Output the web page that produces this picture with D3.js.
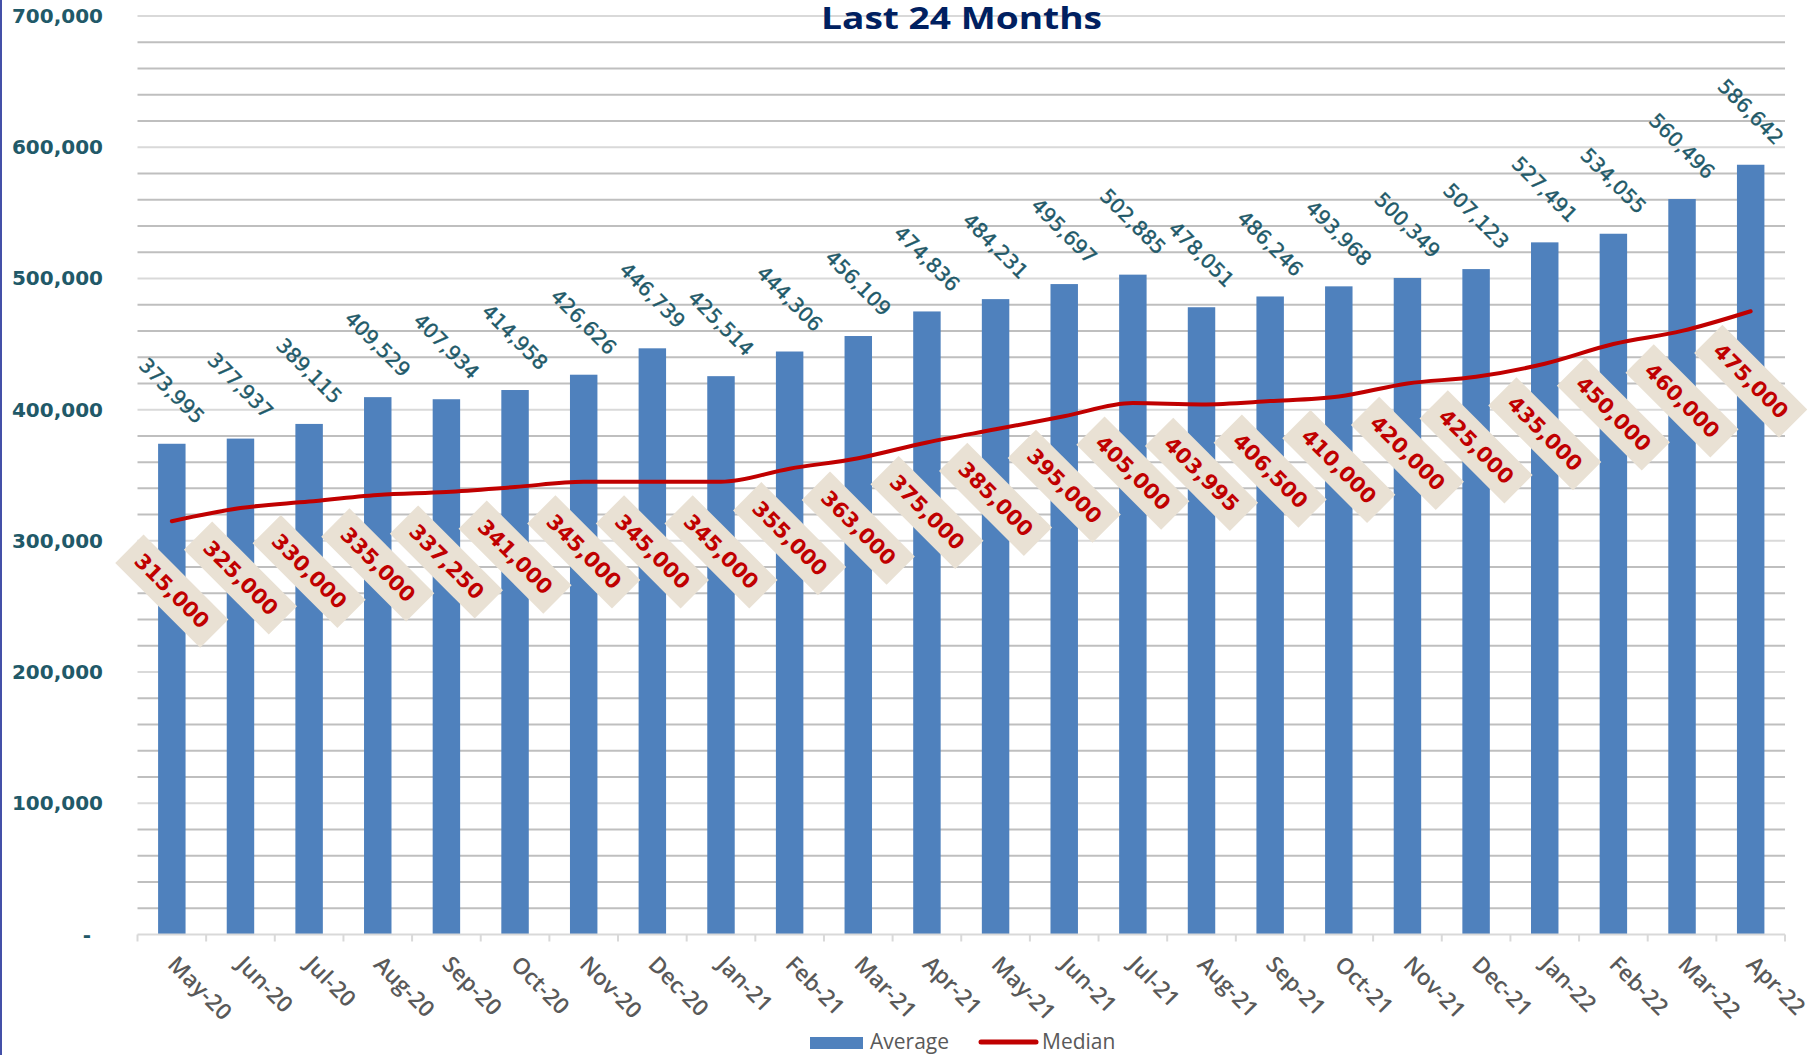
<!DOCTYPE html>
<html lang="en">
  <head>
    <meta charset="UTF-8" />
    <title>Last 24 Months</title>
    <script src="https://d3js.org/d3.v7.min.js"></script>
    <style>
      body {
        margin: 0;
        background: #fff;
      }
      svg {
        display: block;
      }
    </style>
  </head>
  <body>
    <div id="chart"></div>
    <script>
      const months = ['May-20', 'Jun-20', 'Jul-20', 'Aug-20', 'Sep-20', 'Oct-20', 'Nov-20', 'Dec-20',
        'Jan-21', 'Feb-21', 'Mar-21', 'Apr-21', 'May-21', 'Jun-21', 'Jul-21', 'Aug-21',
        'Sep-21', 'Oct-21', 'Nov-21', 'Dec-21', 'Jan-22', 'Feb-22', 'Mar-22', 'Apr-22'];
      const average = [373995, 377937, 389115, 409529, 407934, 414958, 426626, 446739,
        425514, 444306, 456109, 474836, 484231, 495697, 502885, 478051,
        486246, 493968, 500349, 507123, 527491, 534055, 560496, 586642];
      const median = [315000, 325000, 330000, 335000, 337250, 341000, 345000, 345000,
        345000, 355000, 363000, 375000, 385000, 395000, 405000, 403995,
        406500, 410000, 420000, 425000, 435000, 450000, 460000, 475000];
      const yTicks = [0, 100000, 200000, 300000, 400000, 500000, 600000, 700000];

      const W = 1819, H = 1055;
      const plotL = 137.5, plotR = 1785, plotT = 16, plotB = 934.5;

      const svg = d3.select('#chart').append('svg')
        .attr('width', W).attr('height', H);

      const x = d3.scaleBand().domain(months).range([plotL, plotR]).paddingInner(0.6).paddingOuter(0.3);
      const y = d3.scaleLinear().domain([0, 700000]).range([plotB, plotT]);
      const fmt = d3.format(',');
      const cx = m => x(m) + x.bandwidth() / 2;

      // left border
      svg.append('line').attr('x1', 1).attr('x2', 1).attr('y1', 0).attr('y2', H)
        .attr('stroke', '#4450A8').attr('stroke-width', 2);

      // gridlines, minor every 20k
      const grid = d3.range(20000, 700001, 20000);
      svg.append('g').selectAll('line').data(grid).join('line')
        .attr('x1', plotL).attr('x2', plotR)
        .attr('y1', d => y(d)).attr('y2', d => y(d))
        .attr('stroke', d => (d % 100000 === 0 ? '#D9D9D9' : '#BFBFBF'))
        .attr('stroke-width', 2);

      // y labels
      svg.append('g').selectAll('text').data(yTicks).join('text')
        .attr('x', d => (d === 0 ? 91 : 103))
        .attr('y', d => y(d))
        .attr('text-anchor', 'end')
        .attr('dominant-baseline', 'central')
        .style('font', 'bold 20px "DejaVu Sans"')
        .attr('fill', '#215968')
        .text(d => (d === 0 ? '-' : fmt(d)));

      // title
      svg.append('text')
        .attr('x', 961.5).attr('y', 29)
        .attr('text-anchor', 'middle')
        .attr('textLength', 281).attr('lengthAdjust', 'spacingAndGlyphs')
        .style('font', 'bold 30px "Open Sans"')
        .attr('fill', '#002060')
        .text('Last 24 Months');

      // bars
      svg.append('g').selectAll('rect').data(average).join('rect')
        .attr('x', (d, i) => x(months[i]))
        .attr('y', d => y(d))
        .attr('width', x.bandwidth())
        .attr('height', d => plotB - y(d))
        .attr('fill', '#4F81BD');

      // x axis line and ticks
      svg.append('line').attr('x1', plotL).attr('x2', plotR).attr('y1', plotB).attr('y2', plotB)
        .attr('stroke', '#D9D9D9').attr('stroke-width', 2);
      const step = x.step();
      svg.append('g').selectAll('line').data(d3.range(months.length + 1)).join('line')
        .attr('x1', i => plotL + i * step).attr('x2', i => plotL + i * step)
        .attr('y1', plotB).attr('y2', plotB + 7)
        .attr('stroke', '#D9D9D9').attr('stroke-width', 2);

      // x labels
      svg.append('g').selectAll('text').data(months).join('text')
        .attr('transform', d => `translate(${cx(d) + 6},${plotB + 20}) rotate(45)`)
        .attr('y', 16)
        .attr('text-anchor', 'start')
        .style('font', '600 22.5px "Open Sans"')
        .attr('fill', '#595959')
        .text(d => d);

      // average labels
      svg.append('g').selectAll('text').data(average).join('text')
        .attr('transform', (d, i) => `translate(${cx(months[i])},${y(d) - 53}) rotate(45)`)
        .attr('text-anchor', 'middle')
        .attr('dominant-baseline', 'central')
        .style('font', '20px "DejaVu Sans"')
        .attr('fill', '#215968')
        .attr('stroke', '#215968').attr('stroke-width', 0.4)
        .text(d => fmt(d));

      // median line
      const line = d3.line()
        .x((d, i) => cx(months[i]))
        .y(d => y(d))
        .curve(d3.curveMonotoneX);
      svg.append('path').datum(median)
        .attr('d', line)
        .attr('fill', 'none')
        .attr('stroke', '#C00000')
        .attr('stroke-width', 4)
        .attr('stroke-linecap', 'round');

      // median labels
      const ml = svg.append('g').selectAll('g').data(median).join('g')
        .attr('transform', (d, i) => `translate(${cx(months[i])},${y(d) + 70}) rotate(45)`);
      ml.append('rect')
        .attr('x', -60).attr('y', -20).attr('width', 120).attr('height', 40)
        .attr('fill', '#E9E1D4');
      ml.append('text')
        .attr('text-anchor', 'middle')
        .attr('dominant-baseline', 'central')
        .style('font', 'bold 21px "DejaVu Sans"')
        .attr('fill', '#C00000')
        .text(d => fmt(d));

      // legend
      const lg = svg.append('g');
      lg.append('rect').attr('x', 810).attr('y', 1037).attr('width', 53).attr('height', 12)
        .attr('fill', '#4F81BD');
      lg.append('text').attr('x', 870).attr('y', 1049)
        .style('font', '21px "Open Sans"').attr('fill', '#595959').text('Average');
      lg.append('line').attr('x1', 981).attr('x2', 1036).attr('y1', 1042).attr('y2', 1042)
        .attr('stroke', '#C00000').attr('stroke-width', 5).attr('stroke-linecap', 'round');
      lg.append('text').attr('x', 1042).attr('y', 1049)
        .style('font', '21px "Open Sans"').attr('fill', '#595959').text('Median');
    </script>
  </body>
</html>
